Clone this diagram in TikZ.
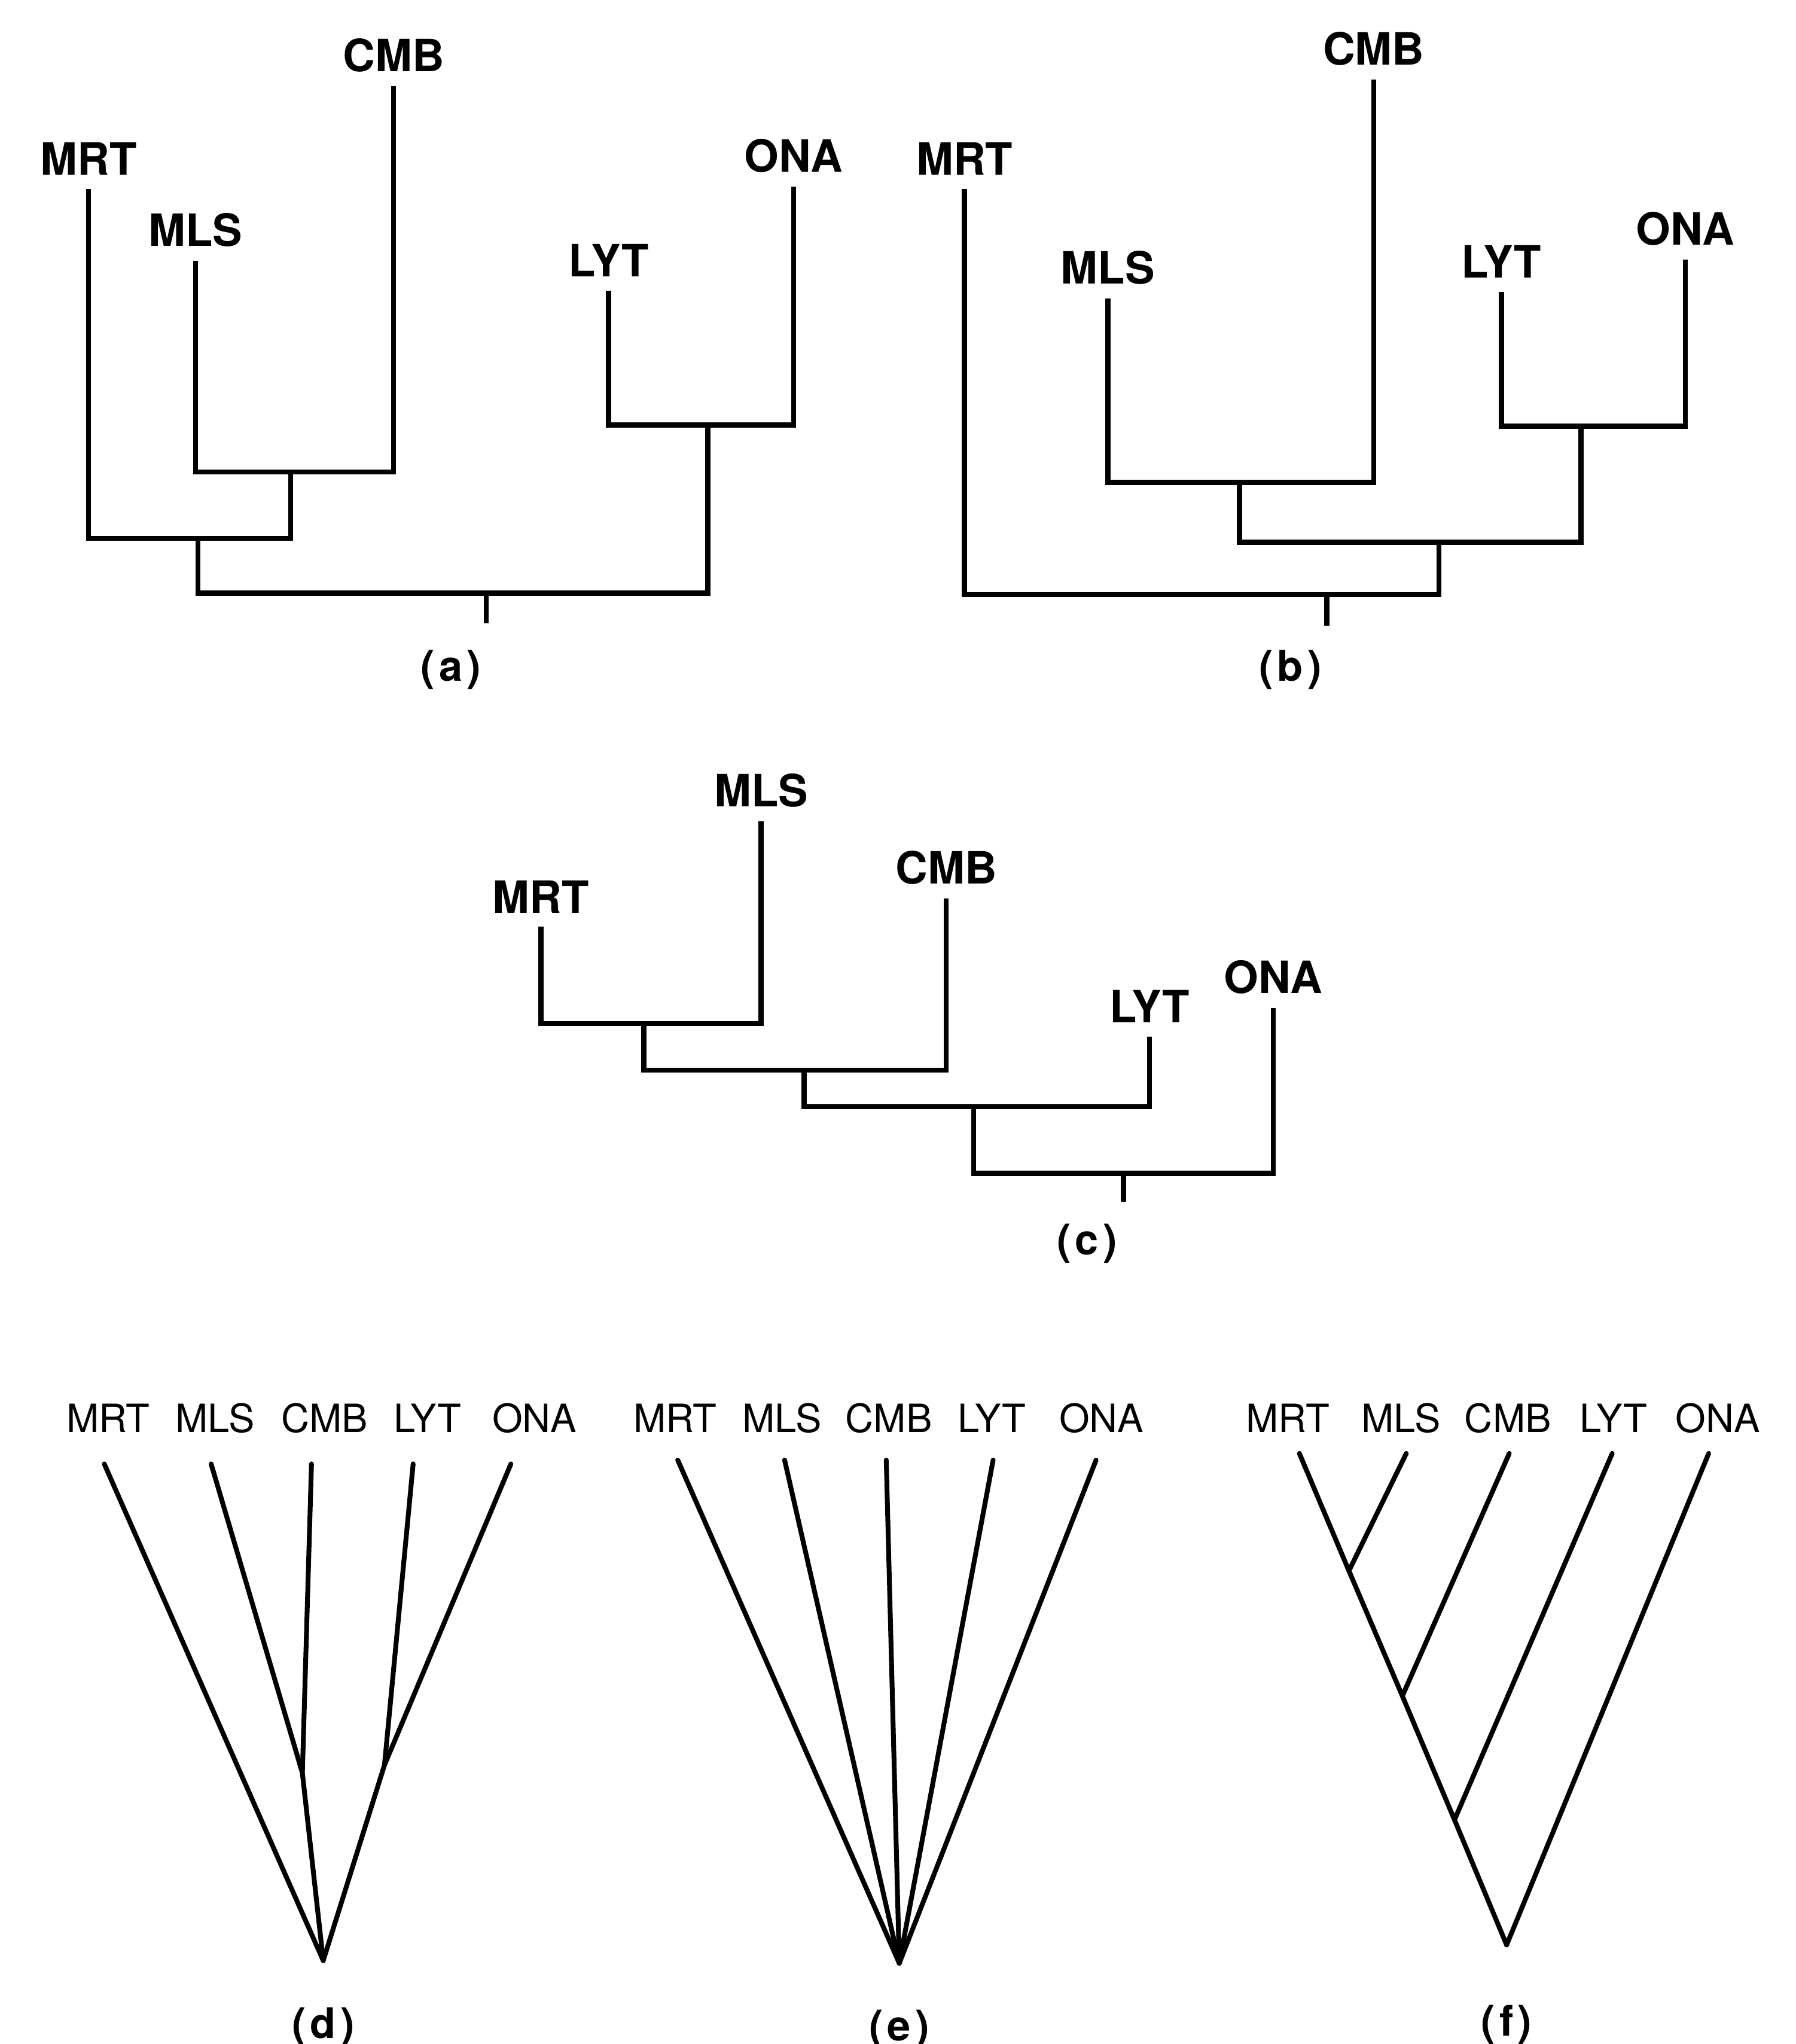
\documentclass[tikz,border=0pt]{standalone}
\usepackage{fontspec}
\setmainfont{TeX Gyre Heros}
\newfontfamily\tagfont[LetterSpace=10]{TeX Gyre Heros}
\usetikzlibrary{calc}

\tikzset{
  taxon/.style={font=\fontsize{9.7}{11}\selectfont\bfseries, anchor=south, inner sep=1mm},
  fanlab/.style={font=\fontsize{8.5}{10}\selectfont, inner sep=0pt},
  paneltag/.style={font=\tagfont\fontsize{9.2}{11}\selectfont\bfseries, inner sep=0pt},
  branch/.style={line width=1.1pt, line join=miter},
  spoke/.style={line width=1.05pt, line cap=round}
}

\begin{document}
\begin{tikzpicture}[x=0.01cm,y=-0.01cm]
  \useasboundingbox (0,0) rectangle (1378,1568);

  % (a)
  \node[taxon] (aMRT) at (68,145)  {MRT};
  \node[taxon] (aMLS) at (150,200) {MLS};
  \node[taxon] (aCMB) at (302,66)  {CMB};
  \node[taxon] (aLYT) at (467,223) {LYT};
  \node[taxon] (aONA) at (609,143) {ONA};
  \coordinate (a1) at (223,362);
  \coordinate (a2) at (152,413);
  \coordinate (a3) at (543,326);
  \coordinate (a4) at (373,455);
  \coordinate (a4t) at (373,478);
  \draw[branch] (aMLS.south) |- (a1) -| (aCMB.south);
  \draw[branch] (aMRT.south) |- (a2) -| (a1);
  \draw[branch] (aLYT.south) |- (a3) -| (aONA.south);
  \draw[branch] (a2) |- (a4) -| (a3);
  \draw[branch] (a4) -- (a4t);
  \node[paneltag] (capa) at (346,514) {(a)};

  % (b)
  \node[taxon] (bMRT) at (740,145)  {MRT};
  \node[taxon] (bMLS) at (850,229)  {MLS};
  \node[taxon] (bCMB) at (1054,61)  {CMB};
  \node[taxon] (bLYT) at (1152,224) {LYT};
  \node[taxon] (bONA) at (1293,199) {ONA};
  \coordinate (b1) at (951,370);
  \coordinate (b2) at (1213,327);
  \coordinate (b3) at (1104,416);
  \coordinate (b4) at (1018,456);
  \coordinate (b4t) at (1018,480);
  \draw[branch] (bMLS.south) |- (b1) -| (bCMB.south);
  \draw[branch] (bLYT.south) |- (b2) -| (bONA.south);
  \draw[branch] (b1) |- (b3) -| (b2);
  \draw[branch] (bMRT.south) |- (b4) -| (b3);
  \draw[branch] (b4) -- (b4t);
  \node[paneltag] (capb) at (990,514) {(b)};

  % (c)
  \node[taxon] (cMRT) at (415,711) {MRT};
  \node[taxon] (cMLS) at (584,630) {MLS};
  \node[taxon] (cCMB) at (726,689) {CMB};
  \node[taxon] (cLYT) at (882,795) {LYT};
  \node[taxon] (cONA) at (977,773) {ONA};
  \coordinate (c1) at (494,785);
  \coordinate (c2) at (617,821);
  \coordinate (c3) at (747,849);
  \coordinate (c4) at (862,900);
  \coordinate (c4t) at (862,922);
  \draw[branch] (cMRT.south) |- (c1) -| (cMLS.south);
  \draw[branch] (c1) |- (c2) -| (cCMB.south);
  \draw[branch] (c2) |- (c3) -| (cLYT.south);
  \draw[branch] (c3) |- (c4) -| (cONA.south);
  \draw[branch] (c4) -- (c4t);
  \node[paneltag] (capc) at (834,954) {(c)};

  % (d)
  \node[fanlab] (dMRT) at (83,1088)  {MRT};
  \node[fanlab] (dMLS) at (165,1088) {MLS};
  \node[fanlab] (dCMB) at (249,1088) {CMB};
  \node[fanlab] (dLYT) at (328,1088) {LYT};
  \node[fanlab] (dONA) at (410,1088) {ONA};
  \coordinate (dMRTt) at (80,1123);
  \coordinate (dMLSt) at (162,1123);
  \coordinate (dCMBt) at (239,1123);
  \coordinate (dLYTt) at (317,1123);
  \coordinate (dONAt) at (392,1123);
  \coordinate (dj1) at (232,1360);
  \coordinate (dj2) at (295,1354);
  \coordinate (droot) at (248,1504);
  \draw[spoke] (dMRTt) -- (droot);
  \draw[spoke] (dMLSt) -- (dj1);
  \draw[spoke] (dCMBt) -- (dj1) -- (droot);
  \draw[spoke] (dLYTt) -- (dj2);
  \draw[spoke] (dONAt) -- (dj2) -- (droot);
  \node[paneltag] (capd) at (248,1555) {(d)};

  % (e)
  \node[fanlab] (eMRT) at (518,1088) {MRT};
  \node[fanlab] (eMLS) at (600,1088) {MLS};
  \node[fanlab] (eCMB) at (682,1088) {CMB};
  \node[fanlab] (eLYT) at (761,1088) {LYT};
  \node[fanlab] (eONA) at (845,1088) {ONA};
  \coordinate (eroot) at (690,1506);
  \foreach \t/\x in {MRT/520,MLS/602,CMB/680,LYT/762,ONA/841}{
    \coordinate (e\t t) at (\x,1120);
    \draw[spoke] (e\t t) -- (eroot);
  }
  \node[paneltag] (cape) at (690,1557) {(e)};

  % (f)
  \node[fanlab] (fMRT) at (988,1088)  {MRT};
  \node[fanlab] (fMLS) at (1075,1088) {MLS};
  \node[fanlab] (fCMB) at (1157,1088) {CMB};
  \node[fanlab] (fLYT) at (1238,1088) {LYT};
  \node[fanlab] (fONA) at (1318,1088) {ONA};
  \coordinate (fMRTt) at (997,1115);
  \coordinate (fMLSt) at (1079,1115);
  \coordinate (fCMBt) at (1158,1115);
  \coordinate (fLYTt) at (1237,1115);
  \coordinate (fONAt) at (1311,1115);
  \coordinate (fj1) at (1035,1205);
  \coordinate (fj2) at (1076,1301);
  \coordinate (fj3) at (1116,1396);
  \coordinate (froot) at (1156,1492);
  \draw[spoke] (fMRTt) -- (fj1) -- (fj2) -- (fj3) -- (froot);
  \draw[spoke] (fMLSt) -- (fj1);
  \draw[spoke] (fCMBt) -- (fj2);
  \draw[spoke] (fLYTt) -- (fj3);
  \draw[spoke] (fONAt) -- (froot);
  \node[paneltag] (capf) at (1156,1553) {(f)};
\end{tikzpicture}
\end{document}
